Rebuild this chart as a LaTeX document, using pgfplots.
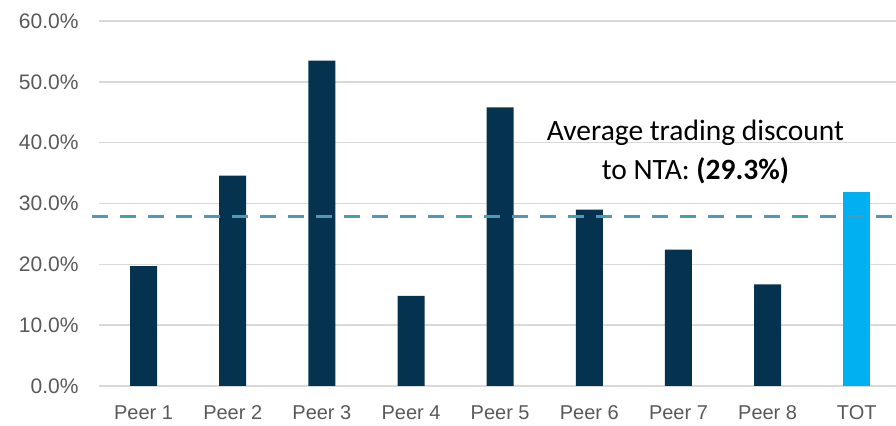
\documentclass[border=0pt]{standalone}
\usepackage{pgfplots}
\pgfplotsset{compat=1.18}
\usepackage{fontspec}
\setmainfont{Liberation Sans}
\newfontfamily\calibri{Carlito}
\definecolor{navy}{HTML}{05324F}
\definecolor{skyblue}{HTML}{00B0F0}
\definecolor{avgline}{HTML}{4E9AB4}
\definecolor{gridgray}{HTML}{D9D9D9}
\definecolor{ticktext}{HTML}{595959}

\begin{document}
\begin{tikzpicture}
\begin{axis}[
    name=ax,
    scale only axis, width=797pt, height=365pt,
    xmin=-0.5, xmax=8.44, ymin=0, ymax=60,
    clip=false,
    axis line style={draw=none},
    major tick length=0pt,
    ymajorgrids, grid style={gridgray, line width=1.5pt},
    ytick={0,10,...,60},
    /pgf/number format/assume math mode=true,
    yticklabel={\pgfmathprintnumber[fixed,fixed zerofill,precision=1]{\tick}\%},
    yticklabel style={font=\fontsize{21}{24}\selectfont, text=ticktext, xshift=-17pt},
    xtick={0,...,8},
    xticklabels={Peer 1,Peer 2,Peer 3,Peer 4,Peer 5,Peer 6,Peer 7,Peer 8,TOT},
    xticklabel style={font=\fontsize{20}{22}\selectfont, text=ticktext, yshift=-16pt},
]
% peers
\addplot[ybar, bar width=27pt, bar shift=0pt, fill=navy, draw=none] coordinates {
    (0,19.7) (1,34.6) (2,53.5) (3,14.8) (4,45.8) (5,29.0) (6,22.4) (7,16.7)
};
% TOT
\addplot[ybar, bar width=27pt, bar shift=0pt, fill=skyblue, draw=none] coordinates {
    (8,31.9)
};
% average line
\addplot[avgline, line width=3pt, dash pattern=on 16pt off 12pt] coordinates {
    (-0.58,27.8) (8.44,27.8)
};
\node[font=\calibri\fontsize{29.5}{39}\selectfont, align=center] at (axis cs:6.19,38.4)
    {Average trading discount\\to NTA: \textbf{(29.3\%)}};
\end{axis}
\pgfresetboundingbox
\path[use as bounding box] ([xshift=-99pt,yshift=-40pt]ax.south west) rectangle ([yshift=21pt]ax.north east);
\end{tikzpicture}
\end{document}
